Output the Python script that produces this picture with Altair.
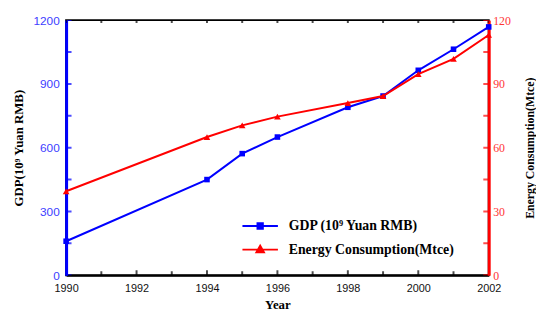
import altair as alt
import pandas as pd

years = [1990, 1994, 1995, 1996, 1998, 1999, 2000, 2001, 2002]
gdp = [160, 450, 572, 650, 790, 843, 964, 1063, 1168]
energy = [39.5, 65.0, 70.5, 74.6, 81.0, 84.3, 94.6, 101.8, 113.0]

series_names = ["GDP (10\u2079 Yuan RMB)", "Energy Consumption(Mtce)"]
series_colors = ["#0000ff", "#ff0000"]
legend_paths = ["M-2,0H2M-0.3,-0.3H0.3V0.3H-0.3Z", "M-2,0H2M0,-0.45L0.42,0.3H-0.42Z"]

x_labels = [1990, 1992, 1994, 1996, 1998, 2000, 2002]
gdp_labels = [0, 300, 600, 900, 1200]
energy_labels = [0, 30, 60, 90, 120]
gdp_minor = [0, 150, 300, 450, 600, 750, 900, 1050, 1200]
energy_minor = [0, 15, 30, 45, 60, 75, 90, 105, 120]
year_major = [1992, 1994, 1996, 1998, 2000]
year_minor = [1991, 1993, 1995, 1997, 1999, 2001]
year_all = list(range(1990, 2003))

df = pd.DataFrame({"year": years, "gdp": gdp, "energy": energy})

xs = alt.Scale(domain=[1990, 2002], nice=False, zero=False)
ys_g = alt.Scale(domain=[0, 1200], nice=False)
ys_e = alt.Scale(domain=[0, 120], nice=False)

x_axis = alt.Axis(values=x_labels, format="d", title="Year", labelFont="Liberation Sans",
                  labelFontSize=11, labelColor="#111111", domainColor="black", domainWidth=2,
                  ticks=False, labelPadding=7, labelFlush=False, titleFont="Liberation Serif",
                  titleFontSize=13, titleFontWeight="bold", titleColor="black", titlePadding=6,
                  grid=False)
left_axis = alt.Axis(orient="left", values=gdp_labels, format="d", title="GDP(10\u2079 Yuan RMB)",
                     labelColor="#4040ff", labelFont="Liberation Sans", labelFontSize=12,
                     labelFlush=False, domainColor="#0000ff", domainWidth=3, ticks=False,
                     labelPadding=7, titleFont="Liberation Serif", titleFontSize=13,
                     titleFontWeight="bold", titleColor="black", titlePadding=8, grid=False)
right_axis = alt.Axis(orient="right", values=energy_labels, format="d",
                      title="Energy Consumption(Mtce)", labelColor="#ff3535",
                      labelFont="Liberation Serif", labelFontSize=12, labelFlush=False,
                      domainColor="#ff0000", domainWidth=3, ticks=False, labelPadding=4,
                      titleFont="Liberation Serif", titleFontSize=12, titleFontWeight="bold",
                      titleColor="black", titlePadding=26, titleAngle=270, grid=False)

base = alt.Chart(df)
gdp_line = base.mark_line(color="#0000ff", strokeWidth=2).encode(
    x=alt.X("year:Q", scale=xs, axis=x_axis),
    y=alt.Y("gdp:Q", scale=ys_g, axis=left_axis))
gdp_pts = base.mark_point(shape="square", filled=True, size=32, color="#0000ff", opacity=1).encode(
    x=alt.X("year:Q", scale=xs, axis=x_axis), y=alt.Y("gdp:Q", scale=ys_g, axis=left_axis))

def ticks(years_list, vals, orient, size, color, ycol, ysc, yax):
    d = pd.DataFrame({"year": years_list, ycol: vals})
    return alt.Chart(d).mark_tick(orient=orient, size=size, thickness=2, color=color, clip=True).encode(
        x=alt.X("year:Q", scale=xs, axis=x_axis), y=alt.Y(f"{ycol}:Q", scale=ysc, axis=yax))

left_ticks = ticks([1990] * len(gdp_minor), gdp_minor, "horizontal", 11, "#0000ff", "gdp", ys_g, left_axis)
bottom_major = ticks(year_major, [0] * len(year_major), "vertical", 10, "black", "gdp", ys_g, left_axis)
bottom_minor = ticks(year_minor, [0] * len(year_minor), "vertical", 8, "black", "gdp", ys_g, left_axis)
top_ticks = ticks(year_all, [1200] * len(year_all), "vertical", 6, "black", "gdp", ys_g, left_axis)

en_line = base.mark_line(color="#ff0000", strokeWidth=2).encode(
    x=alt.X("year:Q", scale=xs, axis=x_axis),
    y=alt.Y("energy:Q", scale=ys_e, axis=right_axis))
en_pts = base.mark_point(shape="triangle-up", filled=True, size=45, color="#ff0000", opacity=1).encode(
    x=alt.X("year:Q", scale=xs, axis=x_axis), y=alt.Y("energy:Q", scale=ys_e, axis=right_axis))
right_ticks = ticks([2002] * len(energy_minor), energy_minor, "horizontal", 11, "#ff0000", "energy", ys_e, right_axis)

leg = alt.Legend(orient="none", legendX=187, legendY=199, title=None,
                 labelFont="Liberation Serif", labelFontSize=14, labelFontWeight="bold",
                 labelColor="black", labelLimit=400, symbolSize=324, symbolStrokeWidth=2,
                 symbolOpacity=1, rowPadding=7, labelOffset=19, padding=0)
cscale = alt.Scale(domain=series_names, range=series_colors)
dummy = base.mark_point(filled=False, opacity=0).encode(
    x=alt.X("year:Q", scale=xs, axis=x_axis), y=alt.Y("energy:Q", scale=ys_e, axis=right_axis),
    color=alt.Color("s:N", scale=cscale, legend=leg),
    fill=alt.Fill("s:N", scale=cscale, legend=leg),
    shape=alt.Shape("s:N", scale=alt.Scale(domain=series_names, range=legend_paths), legend=leg),
).transform_calculate(s="'" + series_names[1] + "'")

gdp_layer = alt.layer(gdp_line, gdp_pts, left_ticks, bottom_major, bottom_minor, top_ticks)
en_layer = alt.layer(en_line, en_pts, right_ticks, dummy)

chart = alt.layer(gdp_layer, en_layer).resolve_scale(y="independent").properties(
    width=429, height=259, autosize="none",
    padding={"left": 59, "top": 10, "right": 48, "bottom": 34},
    background="white",
).configure_view(stroke="black", strokeWidth=2)

chart.save("out.html", embed_options={"renderer": "svg", "actions": False})
